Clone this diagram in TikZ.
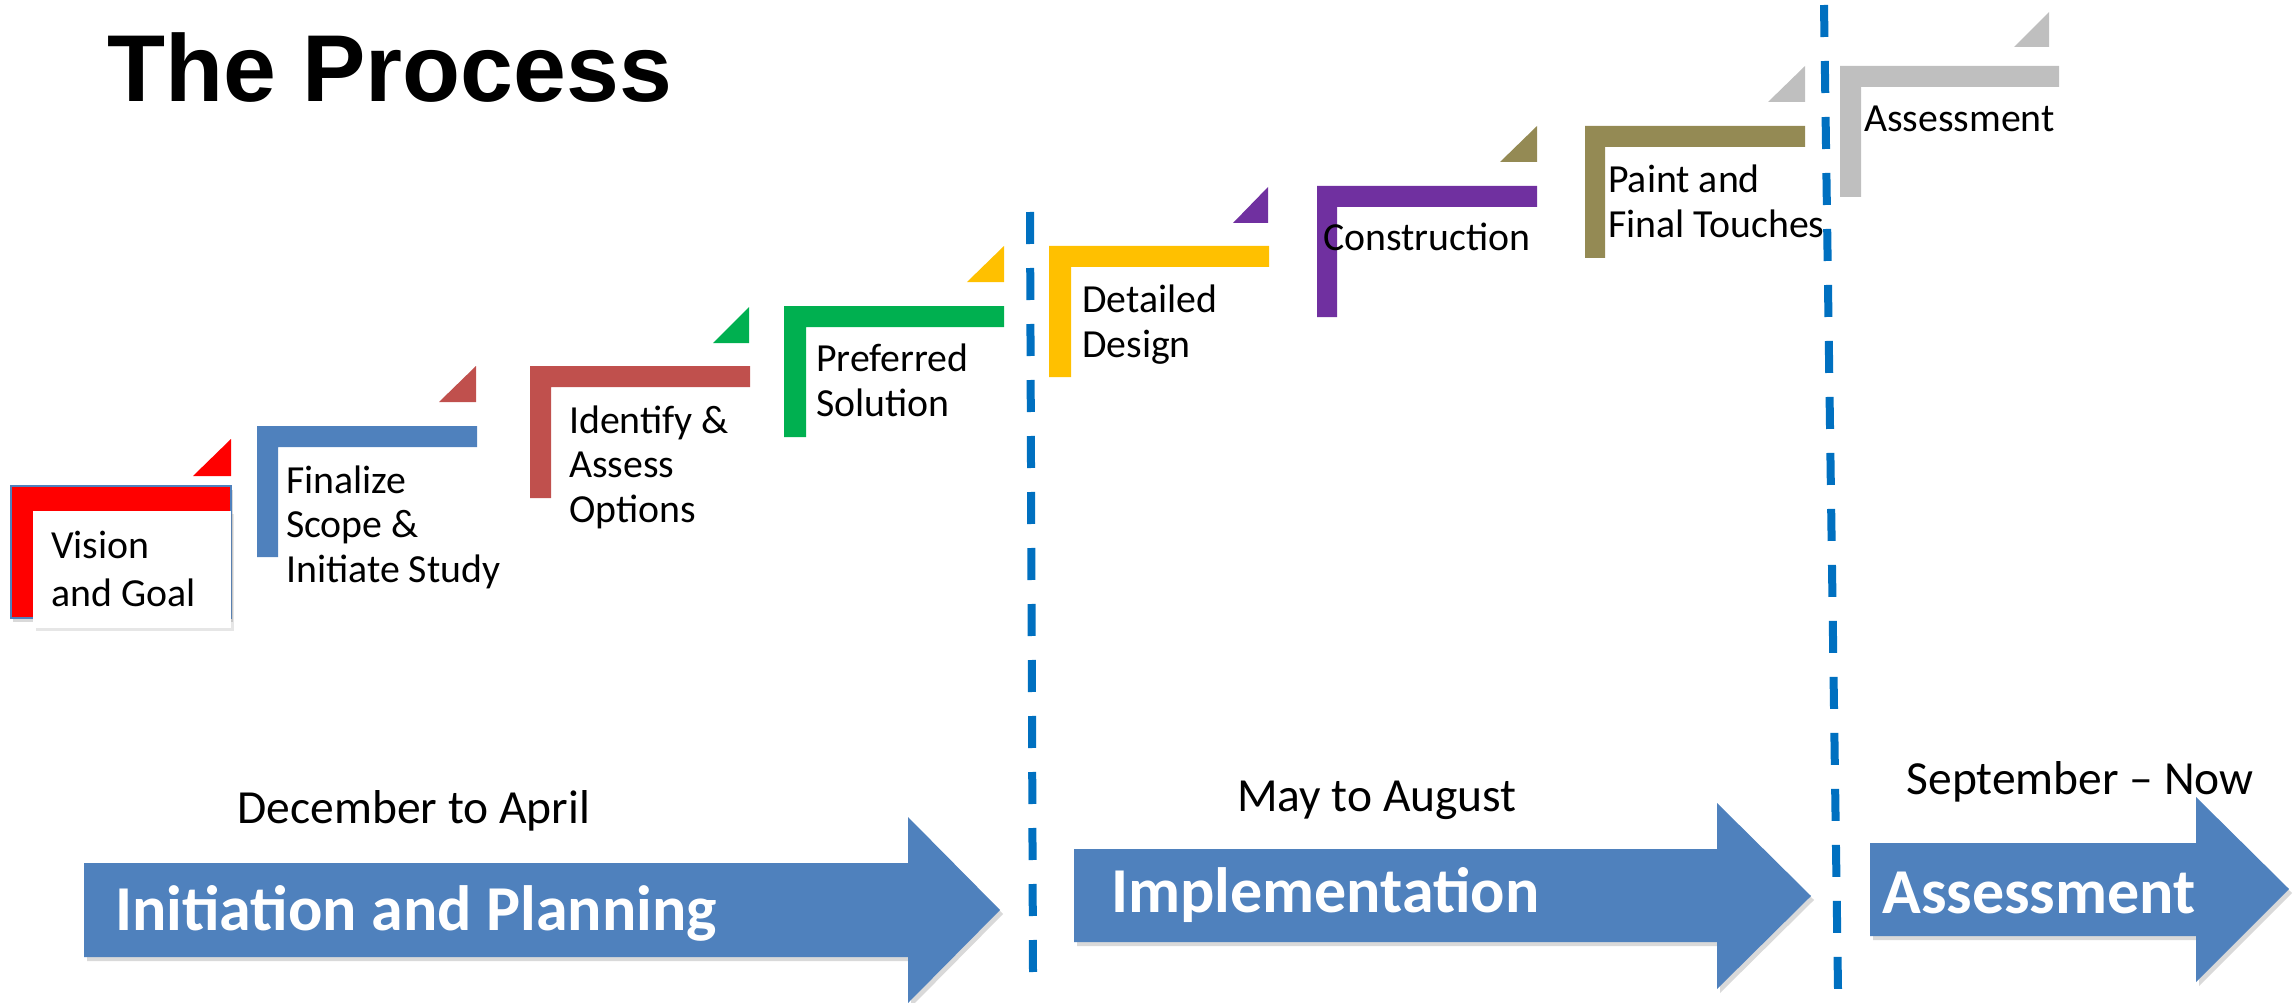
\documentclass[tikz,border=0pt]{standalone}
\usepackage{fontspec}
\setmainfont{Carlito}
\newfontfamily\titlefont{Liberation Sans}
\usetikzlibrary{shadows}

\definecolor{visionred}{HTML}{FF0000}
\definecolor{scopeblue}{HTML}{4F81BD}
\definecolor{optionred}{HTML}{C0504D}
\definecolor{solutiongreen}{HTML}{00B050}
\definecolor{designyellow}{HTML}{FFC000}
\definecolor{buildpurple}{HTML}{7030A0}
\definecolor{paintolive}{HTML}{948A54}
\definecolor{assessgray}{HTML}{BFBFBF}
\definecolor{dividerblue}{HTML}{0070C0}

\begin{document}
\begin{tikzpicture} [x = 1pt, y = -1pt,
        steplabel/.style = {anchor = base west, inner sep = 0pt, align = left, font = \fontsize{39.8}{44.5}\selectfont},
        period/.style = {anchor = base, inner sep = 0pt, font = \fontsize{47.5}{56}\selectfont},
        phase/.style = {anchor = base west, inner sep = 0pt, text = white, font = \bfseries\fontsize{64}{76}\selectfont},
        phasearrow/.style = {fill = scopeblue, drop shadow = {shadow xshift = 3pt, shadow yshift = -4pt, opacity = .3}},
        divider/.style = {draw = dividerblue, line width = 8pt, dash pattern = on 32pt off 24pt}]
        \useasboundingbox (0,0) rectangle (2295,1003);

        % title
        \node (title) [anchor = base west, inner sep = 0pt, font = \titlefont\bfseries\fontsize{95}{110}\selectfont] at (107,102) {The Process};

        % the steps
        \draw [fill = visionred, draw = scopeblue, line width = 1.2pt, drop shadow = {shadow xshift = 2pt, shadow yshift = -4pt, opacity = .3}] (11,486) rectangle (231,618);
        \fill [white, drop shadow = {shadow xshift = 3pt, shadow yshift = -3pt, opacity = .2}] (33,511) rectangle (231,628);
        \fill [visionred] (231,439) -- (231,476) -- (193,476) -- cycle;

        \fill [scopeblue] (257,426) rectangle ++(220,21) (257,426) rectangle ++(21,131);
        \fill [optionred] (476,366) -- ++(0,36) -- ++(-37,0) -- cycle;

        \fill [optionred] (530,366) rectangle ++(220,21) (530,366) rectangle ++(21,132);
        \fill [solutiongreen] (749,307) -- ++(0,36) -- ++(-36,0) -- cycle;

        \fill [solutiongreen] (784,306) rectangle ++(220,21) (784,306) rectangle ++(22,131);
        \fill [designyellow] (1004,246) -- ++(0,36) -- ++(-37,0) -- cycle;

        \fill [designyellow] (1049,246) rectangle ++(220,21) (1049,246) rectangle ++(22,131);
        \fill [buildpurple] (1268,187) -- ++(0,36) -- ++(-35,0) -- cycle;

        \fill [buildpurple] (1317,186) rectangle ++(220,21) (1317,186) rectangle ++(20,131);
        \fill [paintolive] (1537,126) -- ++(0,36) -- ++(-37,0) -- cycle;

        \fill [paintolive] (1585,126) rectangle ++(220,21) (1585,126) rectangle ++(20,132);
        \fill [assessgray] (1805,66) -- ++(0,36) -- ++(-37,0) -- cycle;

        \fill [assessgray] (1840,66) rectangle ++(219,21) (1840,66) rectangle ++(21,131);
        \fill [assessgray] (2049,12) -- ++(0,35) -- ++(-35,0) -- cycle;

        % last line on the given baseline
        \node (vision) [steplabel, font = \fontsize{39.8}{48}\selectfont] at (51,606) {Vision\\and Goal};
        \node (scope) [steplabel] at (286,582) {Finalize\\Scope \&\\Initiate Study};
        \node (options) [steplabel] at (569,522) {Identify \&\\Assess\\Options};
        \node (solution) [steplabel] at (816,416) {Preferred\\Solution};
        \node (design) [steplabel] at (1082,357) {Detailed\\Design};
        \node (construction) [steplabel] at (1323,251) {Construction};
        \node (paint) [steplabel] at (1608,237) {Paint and\\Final Touches};
        \node (assessment) [steplabel] at (1864,132) {Assessment};

        % phase dividers
        \draw [divider] (1030,212) -- (1033,972);
        \draw [divider] (1824,5) -- (1838,989);

        % phases
        \fill [phasearrow] (84,863) -- (908,863) -- (908,817) -- (1000,910) -- (908,1003) -- (908,957) -- (84,957) -- cycle;
        \fill [phasearrow] (1074,849) -- (1717,849) -- (1717,803) -- (1811,896) -- (1717,989) -- (1717,942) -- (1074,942) -- cycle;
        \fill [phasearrow] (1870,843) -- (2196,843) -- (2196,797) -- (2289,889) -- (2196,982) -- (2196,936) -- (1870,936) -- cycle;

        \node (planning) [phase] at (115,930) {Initiation and Planning};
        \node (implementation) [phase] at (1111,912) {Implementation};
        \node (review) [phase] at (1882,913) {Assessment};

        \node (dec) [period] at (414,823) {December to April};
        \node (may) [period] at (1377,811) {May to August};
        \node (sep) [period] at (2080,794) {September – Now};

    \end{tikzpicture}
\end{document}
